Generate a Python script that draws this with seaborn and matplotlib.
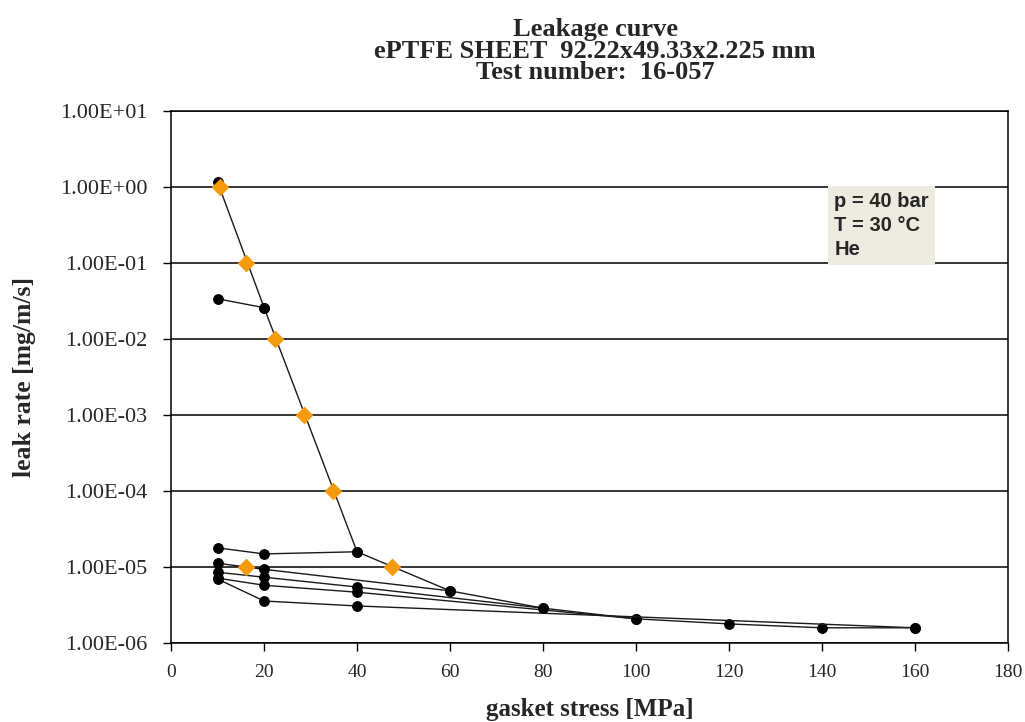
import pandas as pd
import numpy as np
import matplotlib.pyplot as plt
import matplotlib.ticker as mticker
import seaborn as sns

sns.set_style("white")
plt.rcParams["font.family"] = ["Liberation Serif", "DejaVu Serif"]

# measured curves (gasket stress in MPa, leak rate in mg/m/s)
load_x = [10, 20, 40, 60, 80, 100, 120, 140, 160]
load_y = [1.16, 0.026, 1.6e-5, 4.9e-6, 2.9e-6, 2.1e-6, 1.8e-6, 1.6e-6, 1.6e-6]

unload20_x = [10, 20]
unload20_y = [0.034, 0.026]
unload40_x = [10, 20, 40]
unload40_y = [1.8e-5, 1.5e-5, 1.6e-5]
unload60_x = [10, 20, 60]
unload60_y = [1.13e-5, 9.4e-6, 4.9e-6]
unload80_x = [10, 20, 40, 80]
unload80_y = [8.6e-6, 7.4e-6, 5.5e-6, 2.9e-6]
unload100_x = [10, 20, 40, 100]
unload100_y = [7.2e-6, 5.8e-6, 4.7e-6, 2.1e-6]
unload160_x = [10, 20, 40, 160]
unload160_y = [7.0e-6, 3.6e-6, 3.1e-6, 1.6e-6]

# leakage class points (orange diamonds)
qmin_x = [10.4, 16.0, 22.4, 28.5, 34.8, 47.5, 16.0]
qmin_y = [1.0, 0.1, 1e-2, 1e-3, 1e-4, 1e-5, 1e-5]

# axis ticks
x_ticks = [0, 20, 40, 60, 80, 100, 120, 140, 160, 180]
y_ticks = [1e-6, 1e-5, 1e-4, 1e-3, 1e-2, 1e-1, 1e0, 1e1]

curves = {
    "load": (load_x, load_y),
    "u20": (unload20_x, unload20_y),
    "u40": (unload40_x, unload40_y),
    "u60": (unload60_x, unload60_y),
    "u80": (unload80_x, unload80_y),
    "u100": (unload100_x, unload100_y),
    "u160": (unload160_x, unload160_y),
}
df = pd.concat([pd.DataFrame({"stress": x, "leak": y, "curve": k})
                for k, (x, y) in curves.items()], ignore_index=True)
df_q = pd.DataFrame({"stress": qmin_x, "leak": qmin_y})

fig = plt.figure(figsize=(10.25, 7.22), dpi=100)
ax = fig.add_axes([0.167, 0.109, 0.816, 0.737])

sns.lineplot(data=df, x="stress", y="leak", units="curve", estimator=None,
             color="#1a1a1a", linewidth=1.0, marker="o", markersize=7,
             markerfacecolor="black", markeredgecolor="black", ax=ax, legend=False)
sns.scatterplot(data=df_q, x="stress", y="leak", marker="D", s=70,
                color="#F59A0C", edgecolor="#F59A0C", zorder=5, ax=ax, legend=False)

ax.set_yscale("log")
ax.set_yticks(y_ticks)
ax.yaxis.set_minor_locator(mticker.NullLocator())
ax.yaxis.set_major_formatter(mticker.FuncFormatter(lambda v, p: f"{v:.2E}"))
ax.set_xticks(x_ticks)
ax.set_ylim(1e-6, 1e1)
ax.set_xlim(0, 180)
ax.yaxis.grid(True, which="major", color="black", linewidth=1.1)
ax.xaxis.grid(False)
ax.tick_params(axis="both", direction="out", length=6, width=1, color="black",
               left=True, bottom=True)
ax.tick_params(axis="y", labelsize=16, pad=11)
ax.tick_params(axis="x", labelsize=14, pad=9)
for s in ax.spines.values():
    s.set_visible(True)
    s.set_color("black")
    s.set_linewidth(1.1)

ax.set_xlabel("gasket stress [MPa]", fontsize=18, fontweight="bold", labelpad=12)
ax.set_ylabel("leak rate [mg/m/s]", fontsize=18.5, fontweight="bold", labelpad=17)
ax.set_title("Leakage curve\nePTFE SHEET  92.22x49.33x2.225 mm\nTest number:  16-057",
             fontsize=19, fontweight="bold", linespacing=0.92, pad=23, x=0.507)

ax.text(0.793, 0.848, "p = 40 bar\nT = 30 °C\nHe", transform=ax.transAxes,
        ha="left", va="top", fontsize=14.5, fontweight="bold",
        family=["Liberation Sans", "DejaVu Sans"], linespacing=1.32, zorder=6,
        bbox=dict(boxstyle="square,pad=0.3", facecolor="#EDEBE0", edgecolor="none"))

fig.savefig("out.png", dpi=100)
